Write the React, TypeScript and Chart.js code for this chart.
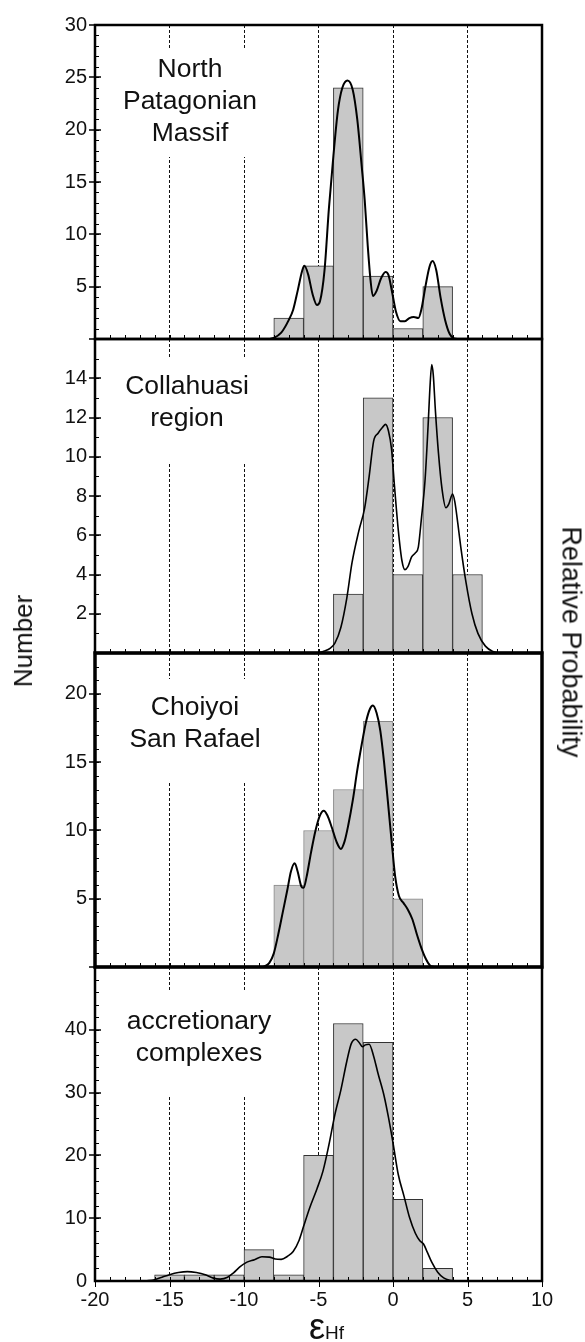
import React, { useEffect, useRef } from "react";
import { Chart, registerables } from "chart.js";

Chart.register(...registerables);

const FONT = '"Liberation Sans", Arial, Helvetica, sans-serif';

// ---------- shared x axis (epsilon Hf) ----------
const X_MIN = -20;
const X_MAX = 10;
const X_STEP = 5;
const X_GRID = [-15, -10, -5, 0, 5];

// ---------- Panel 1: North Patagonian Massif ----------
const npLabel = ["North", "Patagonian", "Massif"];
const npBinCenters = [-7, -5, -3, -1, 1, 3];
const npCounts = [2, 7, 24, 6, 1, 5];
const npYTicks = [5, 10, 15, 20, 25, 30];
const npCurveX = [-8.3, -8.0, -7.5, -7.0, -6.7, -6.4, -6.1, -5.95, -5.7, -5.4, -5.1, -4.9, -4.6, -4.3, -4.0, -3.7, -3.4, -3.05, -2.7, -2.4, -2.1, -1.9, -1.7, -1.5, -1.35, -1.1, -0.8, -0.5, -0.3, -0.05, 0.2, 0.5, 0.8, 1.1, 1.4, 1.7, 1.9, 2.2, 2.45, 2.65, 2.9, 3.2, 3.5, 3.8, 4.1, 4.4];
const npCurveY = [0, 0.1, 0.6, 1.8, 2.8, 4.6, 6.5, 7.0, 6.2, 4.3, 3.25, 3.6, 6.5, 12.5, 17.5, 21.8, 24.0, 24.7, 23.8, 21, 16.5, 13.3, 9, 5.5, 4.1, 4.6, 5.8, 6.4, 6.1, 4.4, 2.6, 1.7, 1.7, 2.0, 2.1, 2.0, 2.8, 5.2, 6.9, 7.45, 6.6, 3.9, 1.8, 0.5, 0.05, 0];

// ---------- Panel 2: Collahuasi region ----------
const coLabel = ["Collahuasi", "region"];
const coBinCenters = [-3, -1, 1, 3, 5];
const coCounts = [3, 13, 4, 12, 4];
const coYTicks = [2, 4, 6, 8, 10, 12, 14];
const coCurveX = [-5.1, -4.6, -4.2, -3.9, -3.5, -3.1, -2.75, -2.3, -1.9, -1.6, -1.3, -1.0, -0.7, -0.5, -0.3, -0.1, 0.1, 0.35, 0.6, 0.8, 1.0, 1.25, 1.5, 1.7, 1.9, 2.15, 2.35, 2.5, 2.6, 2.7, 2.85, 3.05, 3.3, 3.55, 3.75, 4.0, 4.15, 4.35, 4.55, 4.9, 5.3, 5.7, 6.2, 6.7, 7.1];
const coCurveY = [0, 0.1, 0.25, 0.5, 1.3, 2.8, 4.6, 6.2, 7.4, 9.0, 10.8, 11.2, 11.5, 11.65, 11.3, 10.4, 8.5, 6.3, 4.7, 4.25, 4.4, 4.9, 5.1, 5.4, 6.8, 8.8, 11.5, 13.8, 14.7, 14.2, 12.3, 10.2, 8.3, 7.4, 7.6, 8.1, 7.7, 6.6, 5.4, 3.6, 2.0, 1.0, 0.35, 0.08, 0];

// ---------- Panel 3: Choiyoi San Rafael ----------
const chLabel = ["Choiyoi", "San Rafael"];
const chBinCenters = [-7, -5, -3, -1, 1];
const chCounts = [6, 10, 13, 18, 5];
const chYTicks = [5, 10, 15, 20];
const chCurveX = [-8.7, -8.3, -8.0, -7.7, -7.4, -7.1, -6.85, -6.6, -6.4, -6.15, -6.0, -5.8, -5.5, -5.2, -4.9, -4.65, -4.4, -4.1, -3.8, -3.5, -3.25, -3.0, -2.7, -2.4, -2.1, -1.8, -1.55, -1.35, -1.1, -0.85, -0.6, -0.35, -0.1, 0.15, 0.4, 0.7, 1.0, 1.3, 1.6, 1.9, 2.2, 2.5, 2.8];
const chCurveY = [0, 0.3, 1.0, 2.4, 4.0, 5.6, 7.0, 7.6, 7.0, 5.9, 5.8, 6.6, 8.4, 10.0, 11.1, 11.45, 11.1, 10.2, 9.2, 8.65, 9.2, 10.4, 12.2, 14.4, 16.3, 18.0, 18.9, 19.15, 18.6, 17.3, 15.0, 12.2, 9.3, 6.6, 5.2, 4.7, 4.2, 3.5, 2.4, 1.4, 0.6, 0.1, 0];

// ---------- Panel 4: accretionary complexes ----------
const acLabel = ["accretionary", "complexes"];
const acBinCenters = [-15, -13, -11, -9, -7, -5, -3, -1, 1, 3];
const acCounts = [1, 1, 1, 5, 1, 20, 41, 38, 13, 2];
const acYTicks = [0, 10, 20, 30, 40];
const acCurveX = [-16.6, -16.0, -15.5, -15.0, -14.4, -13.8, -13.2, -12.6, -12.1, -11.6, -11.1, -10.7, -10.3, -9.8, -9.3, -8.8, -8.3, -7.9, -7.5, -7.1, -6.7, -6.3, -6.0, -5.6, -5.1, -4.7, -4.3, -3.9, -3.5, -3.1, -2.8, -2.5, -2.25, -2.05, -1.85, -1.6, -1.3, -1.0, -0.6, -0.3, 0.0, 0.35, 0.75, 1.1, 1.5, 1.8, 2.05, 2.3, 2.6, 3.0, 3.4, 3.8, 4.2];
const acCurveY = [0, 0.2, 0.6, 1.0, 1.35, 1.5, 1.35, 1.0, 0.5, 0.3, 0.6, 1.3, 2.2, 3.0, 3.4, 3.85, 3.8, 3.5, 3.45, 3.9, 4.7, 6.5, 8.7, 11.6, 14.7, 17.5, 21.7, 26.5, 30.4, 35.0, 37.8, 38.5, 37.9, 37.3, 37.6, 37.7, 35.8, 33.0, 29.5, 26.0, 22.0, 17.0, 13.4, 10.2, 7.6, 6.4, 5.9, 4.6, 3.0, 1.4, 0.5, 0.1, 0];

// ---------- layout (pixel geometry of the four stacked plot areas) ----------
const PAD = 30;
const PLOT_H = 314;

type PanelProps = {
  top: number;
  height: number;
  padTop: number;
  padBottom: number;
  xAxisHeight: number;
  showX: boolean;
  yMax: number;
  yMajor: number;
  yMinor: number;
  yLabels: number[];
  bins: number[];
  counts: number[];
  curveX: number[];
  curveY: number[];
  barBorder: string;
  frameWidth: number;
  curveWidth: number;
};

function Panel(p: PanelProps) {
  const ref = useRef<HTMLCanvasElement | null>(null);
  useEffect(() => {
    if (!ref.current) return;
    const ticksPlugin = {
      id: "panelTicks",
      afterDraw(chart: any) {
        const { ctx, chartArea: a, scales } = chart;
        const xs = scales.x;
        const ys = scales.y;
        ctx.save();
        ctx.strokeStyle = "#000";
        ctx.lineWidth = 1;
        ctx.beginPath();
        // minor x ticks (inside, upward)
        for (let v = X_MIN + 1; v < X_MAX; v += 1) {
          const px = Math.round(xs.getPixelForValue(v)) + 0.5;
          ctx.moveTo(px, a.bottom);
          ctx.lineTo(px, a.bottom - 4);
        }
        // major x ticks outside on the bottom panel
        if (p.showX) {
          for (let v = X_MIN; v <= X_MAX; v += X_STEP) {
            const px = Math.round(xs.getPixelForValue(v)) + 0.5;
            ctx.moveTo(px, a.bottom);
            ctx.lineTo(px, a.bottom + 6);
          }
        }
        // minor y ticks (inside)
        for (let v = p.yMinor; v < p.yMax; v += p.yMinor) {
          const py = Math.round(ys.getPixelForValue(v)) + 0.5;
          ctx.moveTo(a.left, py);
          ctx.lineTo(a.left + 4, py);
        }
        ctx.stroke();
        // major y ticks (crossing the axis)
        ctx.lineWidth = 1.5;
        ctx.beginPath();
        for (let v = p.yMajor; v <= p.yMax; v += p.yMajor) {
          const py = Math.round(ys.getPixelForValue(v));
          ctx.moveTo(a.left - 6, py);
          ctx.lineTo(a.left + 6, py);
        }
        ctx.stroke();
        // frame
        ctx.lineWidth = p.frameWidth;
        ctx.strokeRect(a.left, a.top, a.right - a.left, a.bottom - a.top);
        ctx.restore();
      },
    };

    const chart = new Chart(ref.current, {
      type: "bar",
      data: {
        datasets: [
          {
            type: "line",
            data: p.curveX.map((x, i) => ({ x, y: p.curveY[i] })),
            borderColor: "#000",
            borderWidth: p.curveWidth,
            pointRadius: 0,
            fill: false,
            tension: 0.4,
            cubicInterpolationMode: "monotone",
            order: 0,
          } as any,
          {
            type: "bar",
            data: p.bins.map((x, i) => ({ x, y: p.counts[i] })),
            backgroundColor: "#c8c8c8",
            borderColor: p.barBorder,
            borderWidth: 1,
            borderSkipped: false,
            barPercentage: 1,
            categoryPercentage: 1,
            order: 1,
          } as any,
        ],
      },
      options: {
        responsive: false,
        animation: false,
        events: [],
        layout: { padding: { left: 0, right: 43, top: p.padTop, bottom: p.padBottom } },
        plugins: { legend: { display: false }, tooltip: { enabled: false }, title: { display: false } },
        scales: {
          x: {
            type: "linear",
            min: X_MIN,
            max: X_MAX,
            offset: false,
            z: 1,
            grid: {
              display: true,
              drawOnChartArea: true,
              drawTicks: false,
              offset: false,
              lineWidth: 1,
              color: (ctx: any) =>
                ctx.tick && X_GRID.includes(ctx.tick.value) ? "#111" : "rgba(0,0,0,0)",
            },
            border: { display: false, dash: [3, 2] },
            ticks: {
              display: p.showX,
              stepSize: X_STEP,
              autoSkip: false,
              maxRotation: 0,
              padding: 7,
              color: "#111",
              font: { family: FONT, size: 20 },
            },
            afterFit: (s: any) => {
              s.height = p.xAxisHeight;
            },
          },
          y: {
            type: "linear",
            min: 0,
            max: p.yMax,
            grid: { display: false, drawTicks: false },
            border: { display: false },
            ticks: {
              stepSize: p.yMajor,
              autoSkip: false,
              padding: 8,
              color: "#111",
              font: { family: FONT, size: 20 },
              callback: (v: any) => (p.yLabels.includes(Number(v)) ? String(v) : ""),
            },
            afterFit: (s: any) => {
              s.width = 95;
            },
          },
        },
      } as any,
      plugins: [ticksPlugin],
    });
    return () => chart.destroy();
  }, []);
  return (
    <canvas
      ref={ref}
      width={585}
      height={p.height}
      style={{ position: "absolute", left: 0, top: p.top, width: 585, height: p.height }}
    />
  );
}

function PanelLabel(props: { lines: string[]; boxTop: number; boxHeight: number; boxLeft: number; boxWidth: number; textTop: number; cx: number }) {
  return (
    <>
      <div
        style={{
          position: "absolute",
          left: props.boxLeft,
          top: props.boxTop,
          width: props.boxWidth,
          height: props.boxHeight,
          background: "#fff",
        }}
      />
      <div
        style={{
          position: "absolute",
          left: props.cx - 110,
          width: 220,
          top: props.textTop,
          textAlign: "center",
          fontFamily: FONT,
          fontSize: 26.5,
          lineHeight: "32px",
          color: "#111",
        }}
      >
        {props.lines.map((l, i) => (
          <div key={i}>{l}</div>
        ))}
      </div>
    </>
  );
}

const PANEL_TOPS = [25, 339, 653, 967];

export default function App() {
  return (
    <div
      style={{
        position: "absolute",
        left: 0,
        top: 0,
        width: 585,
        height: 1342,
        overflow: "hidden",
        background: "#fff",
      }}
    >
      <Panel top={PANEL_TOPS[0] - PAD} height={PLOT_H + 2 * PAD} padTop={PAD} padBottom={PAD} xAxisHeight={0} showX={false}
        yMax={30} yMajor={5} yMinor={1} yLabels={npYTicks} bins={npBinCenters} counts={npCounts}
        curveX={npCurveX} curveY={npCurveY} barBorder="#333" frameWidth={2.5} curveWidth={2} />
      <Panel top={PANEL_TOPS[1] - PAD} height={PLOT_H + 2 * PAD} padTop={PAD} padBottom={PAD} xAxisHeight={0} showX={false}
        yMax={16} yMajor={2} yMinor={1} yLabels={coYTicks} bins={coBinCenters} counts={coCounts}
        curveX={coCurveX} curveY={coCurveY} barBorder="#333" frameWidth={2.5} curveWidth={1.6} />
      <Panel top={PANEL_TOPS[2] - PAD} height={PLOT_H + 2 * PAD} padTop={PAD} padBottom={PAD} xAxisHeight={0} showX={false}
        yMax={23} yMajor={5} yMinor={1} yLabels={chYTicks} bins={chBinCenters} counts={chCounts}
        curveX={chCurveX} curveY={chCurveY} barBorder="#888" frameWidth={3.5} curveWidth={2} />
      <Panel top={PANEL_TOPS[3] - PAD} height={1342 - (PANEL_TOPS[3] - PAD)} padTop={PAD} padBottom={0} xAxisHeight={61} showX={true}
        yMax={50} yMajor={10} yMinor={2} yLabels={acYTicks} bins={acBinCenters} counts={acCounts}
        curveX={acCurveX} curveY={acCurveY} barBorder="#333" frameWidth={2.5} curveWidth={1.6} />

      <PanelLabel lines={npLabel} boxLeft={110} boxWidth={156} boxTop={48} boxHeight={109} textTop={52} cx={190} />
      <PanelLabel lines={coLabel} boxLeft={110} boxWidth={156} boxTop={359} boxHeight={103} textTop={369} cx={187} />
      <PanelLabel lines={chLabel} boxLeft={110} boxWidth={160} boxTop={679} boxHeight={104} textTop={690} cx={195} />
      <PanelLabel lines={acLabel} boxLeft={115} boxWidth={165} boxTop={992} boxHeight={105} textTop={1004} cx={199} />

      <div
        style={{
          position: "absolute",
          left: 23,
          top: 641,
          transform: "translate(-50%, -50%) rotate(-90deg)",
          whiteSpace: "nowrap",
          fontFamily: FONT,
          fontSize: 26,
          lineHeight: "26px",
          color: "#111",
        }}
      >
        Number
      </div>
      <div
        style={{
          position: "absolute",
          left: 571,
          top: 642,
          transform: "translate(-50%, -50%) rotate(90deg)",
          whiteSpace: "nowrap",
          fontFamily: FONT,
          fontSize: 27,
          lineHeight: "27px",
          color: "#111",
        }}
      >
        Relative Probability
      </div>
      <div
        style={{
          position: "absolute",
          left: 309,
          top: 1309,
          whiteSpace: "nowrap",
          fontFamily: FONT,
          fontSize: 36,
          lineHeight: "36px",
          color: "#111",
        }}
      >
        <span>ε</span>
        <span style={{ fontSize: 19 }}>Hf</span>
      </div>
    </div>
  );
}
